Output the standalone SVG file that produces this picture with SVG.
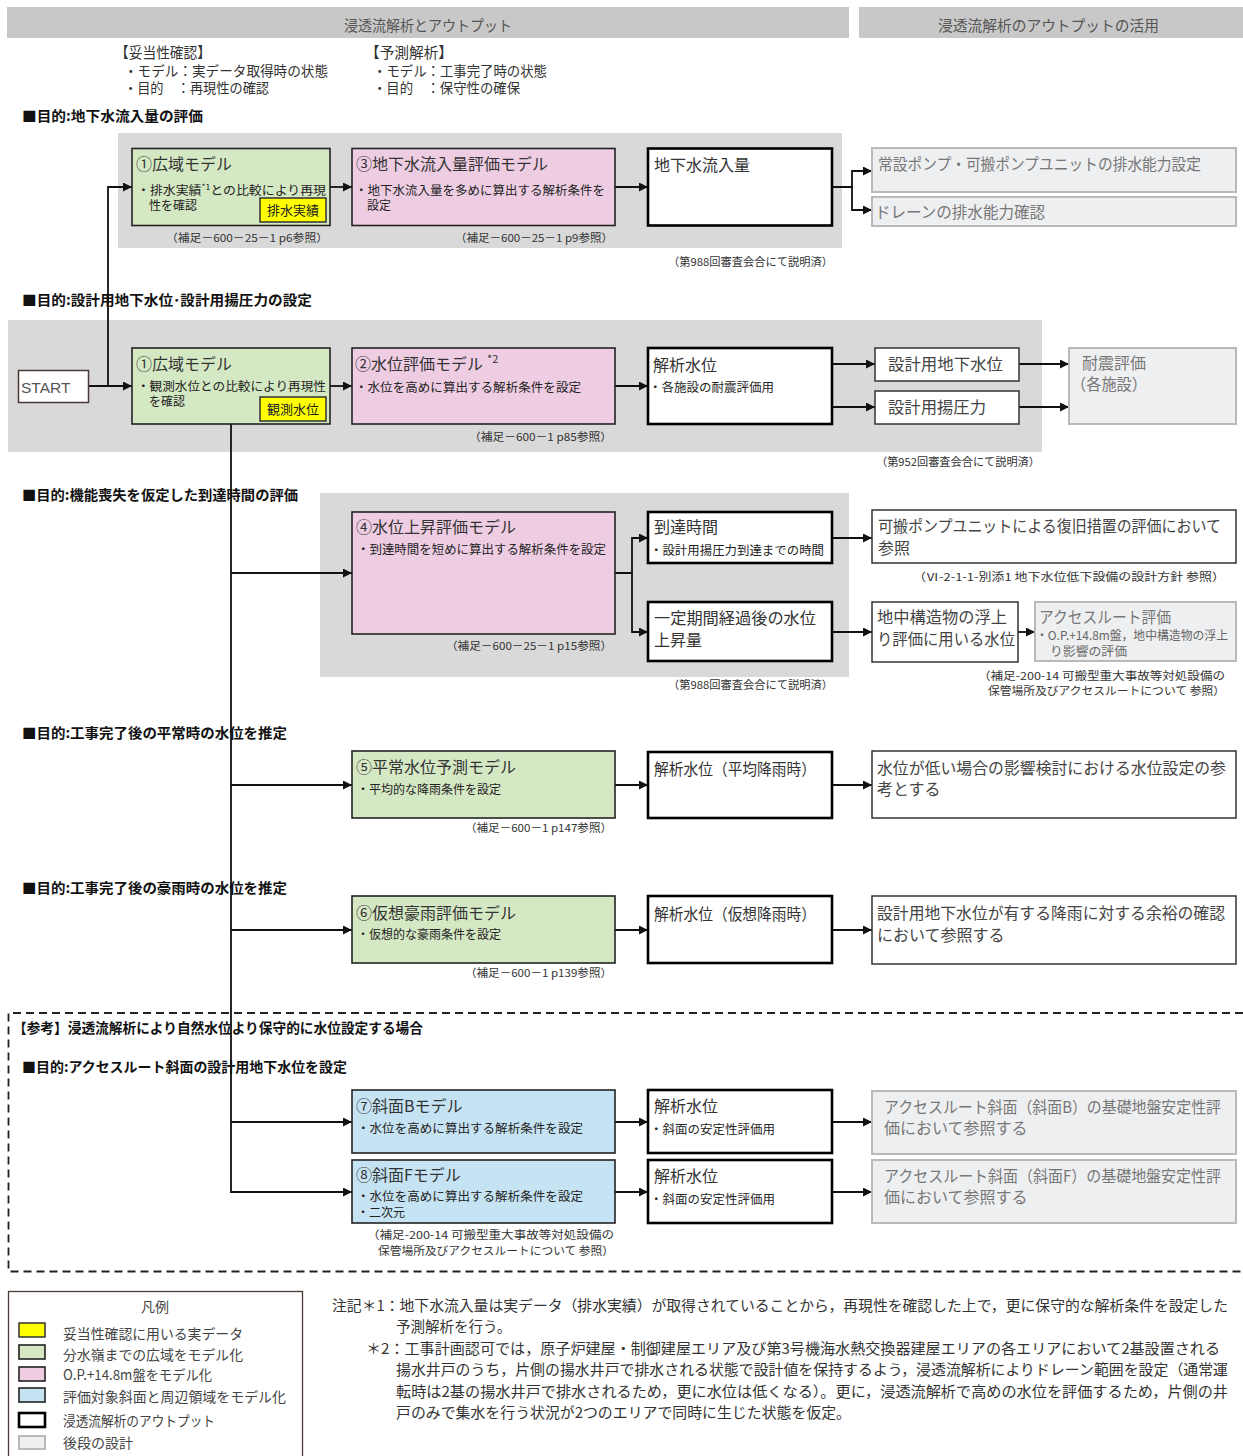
<svg xmlns="http://www.w3.org/2000/svg" width="1243" height="1456" viewBox="0 0 1243 1456">
<defs>
<style>
text{font-family:"Noto Sans CJK JP","Noto Sans",sans-serif}
.hb{fill:#c8c8c8}
.ht{font-size:15px;fill:#555}
.sec{font-size:14px;font-weight:bold;fill:#111}
.intro{font-size:14px;fill:#333}
.intro2{font-size:15px;fill:#333}
.bg{fill:#d9d9d9}
.gr{fill:#d5e8c4;stroke:#222;stroke-width:1.6}
.pk{fill:#eecde2;stroke:#222;stroke-width:1.6}
.bl{fill:#c6e3f3;stroke:#222;stroke-width:1.6}
.yl{fill:#ffff00;stroke:#333;stroke-width:1.5}
.out{fill:#fff;stroke:#000;stroke-width:2.6}
.use{fill:#fff;stroke:#333;stroke-width:1.5}
.gy{fill:#eeeff1;stroke:#b9b9b9;stroke-width:2}
.tt{font-size:16px;fill:#333}
.st{font-size:12px;fill:#222}
.yt{font-size:13px;fill:#222}
.cap{font-size:11px;fill:#333}
.ut{font-size:16px;fill:#444}
.gt{font-size:16px;fill:#777}
.gs{font-size:12px;fill:#666}
.lg{font-size:14px;fill:#444}
.nt{font-size:14.5px;fill:#333}
.c{fill:none;stroke:#111;stroke-width:1.8}
.ca{fill:none;stroke:#111;stroke-width:1.8;marker-end:url(#ah)}
.dash{fill:none;stroke:#222;stroke-width:1.8;stroke-dasharray:8 5}
</style>
<marker id="ah" viewBox="0 0 10 10" refX="10" refY="5" markerWidth="5" markerHeight="5" orient="auto"><path d="M0,0 L10,5 L0,10 z" fill="#111"/></marker>
</defs>
<rect width="1243" height="1456" fill="#fff"/>

<!-- header bars -->
<g id="header">
<rect class="hb" x="7" y="7" width="842" height="31"/>
<text class="ht" x="344" y="31" textLength="168" lengthAdjust="spacingAndGlyphs">浸透流解析とアウトプット</text>
<rect class="hb" x="859" y="7" width="384" height="31"/>
<text class="ht" x="938" y="31" textLength="221" lengthAdjust="spacingAndGlyphs">浸透流解析のアウトプットの活用</text>
</g>

<g id="intro">
<text class="intro2" x="115" y="58" textLength="96" lengthAdjust="spacingAndGlyphs">【妥当性確認】</text>
<text class="intro" x="124" y="76" textLength="204" lengthAdjust="spacingAndGlyphs">・モデル：実データ取得時の状態</text>
<text class="intro" x="124" y="93" textLength="145" lengthAdjust="spacingAndGlyphs">・目的　：再現性の確認</text>
<text class="intro2" x="365" y="58" textLength="88" lengthAdjust="spacingAndGlyphs">【予測解析】</text>
<text class="intro" x="373" y="76" textLength="174" lengthAdjust="spacingAndGlyphs">・モデル：工事完了時の状態</text>
<text class="intro" x="373" y="93" textLength="147" lengthAdjust="spacingAndGlyphs">・目的　：保守性の確保</text>
</g>

<!-- section backgrounds -->
<g id="backgrounds">
<rect class="bg" x="118" y="133" width="724" height="115"/>
<rect class="bg" x="8" y="320" width="1034" height="132"/>
<rect class="bg" x="320" y="493" width="529" height="184"/>
</g>

<!-- section headings -->
<g id="headings">
<text class="sec" x="22" y="121" textLength="181" lengthAdjust="spacingAndGlyphs">■目的:地下水流入量の評価</text>
<text class="sec" x="22" y="305" textLength="290" lengthAdjust="spacingAndGlyphs">■目的:設計用地下水位･設計用揚圧力の設定</text>
<text class="sec" x="22" y="500" textLength="276" lengthAdjust="spacingAndGlyphs">■目的:機能喪失を仮定した到達時間の評価</text>
<text class="sec" x="22" y="738" textLength="265" lengthAdjust="spacingAndGlyphs">■目的:工事完了後の平常時の水位を推定</text>
<text class="sec" x="22" y="893" textLength="265" lengthAdjust="spacingAndGlyphs">■目的:工事完了後の豪雨時の水位を推定</text>
<text class="sec" x="13" y="1033" textLength="410" lengthAdjust="spacingAndGlyphs">【参考】浸透流解析により自然水位より保守的に水位設定する場合</text>
<text class="sec" x="22" y="1072" textLength="325" lengthAdjust="spacingAndGlyphs">■目的:アクセスルート斜面の設計用地下水位を設定</text>
</g>

<path id="reference-frame" class="dash" d="M1243,1013 H8.5 V1271.5 H1243"/>

<!-- captions -->
<g id="captions">
<text class="cap" x="166" y="242" textLength="162" lengthAdjust="spacingAndGlyphs">（補足－600－25－1 p6参照）</text>
<text class="cap" x="455" y="242" textLength="158" lengthAdjust="spacingAndGlyphs">（補足－600－25－1 p9参照）</text>
<text class="cap" x="668" y="266" textLength="165" lengthAdjust="spacingAndGlyphs">（第988回審査会合にて説明済）</text>
<text class="cap" x="469" y="441" textLength="143" lengthAdjust="spacingAndGlyphs">（補足－600－1 p85参照）</text>
<text class="cap" x="876" y="466" textLength="164" lengthAdjust="spacingAndGlyphs">（第952回審査会合にて説明済）</text>
<text class="cap" x="446" y="650" textLength="166" lengthAdjust="spacingAndGlyphs">（補足－600－25－1 p15参照）</text>
<text class="cap" x="668" y="689" textLength="165" lengthAdjust="spacingAndGlyphs">（第988回審査会合にて説明済）</text>
<text class="cap" x="913" y="581" textLength="312" lengthAdjust="spacingAndGlyphs">（Ⅵ-2-1-1-別添1  地下水位低下設備の設計方針  参照）</text>
<text class="cap" x="978" y="680" textLength="247" lengthAdjust="spacingAndGlyphs">（補足-200-14  可搬型重大事故等対処設備の</text>
<text class="cap" x="988" y="695" textLength="237" lengthAdjust="spacingAndGlyphs">保管場所及びアクセスルートについて  参照）</text>
<text class="cap" x="465" y="832" textLength="147" lengthAdjust="spacingAndGlyphs">（補足－600－1 p147参照）</text>
<text class="cap" x="465" y="977" textLength="147" lengthAdjust="spacingAndGlyphs">（補足－600－1 p139参照）</text>
<text class="cap" x="367" y="1239" textLength="247" lengthAdjust="spacingAndGlyphs">（補足-200-14  可搬型重大事故等対処設備の</text>
<text class="cap" x="378" y="1255" textLength="236" lengthAdjust="spacingAndGlyphs">保管場所及びアクセスルートについて  参照）</text>
</g>

<!-- connectors -->
<g id="connectors">
<path class="ca" d="M88,386 H132"/>
<path class="ca" d="M108,386 V187 H132"/>
<path class="ca" d="M330,187 H352"/>
<path class="ca" d="M615,187 H648"/>
<path class="ca" d="M832,187 H852 V171 H872"/>
<path class="ca" d="M852,187 V210 H872"/>
<path class="ca" d="M330,386 H352"/>
<path class="ca" d="M615,386 H648"/>
<path class="ca" d="M832,364 H875"/>
<path class="ca" d="M832,407 H875"/>
<path class="ca" d="M1019,364 H1069"/>
<path class="ca" d="M1019,407 H1069"/>
<path class="ca" d="M231,424 V1192 H352"/>
<path class="ca" d="M231,573 H352"/>
<path class="ca" d="M615,573 H632 V538 H648"/>
<path class="ca" d="M632,573 V632 H648"/>
<path class="ca" d="M832,538 H872"/>
<path class="ca" d="M832,632 H872"/>
<path class="ca" d="M1018,632 H1035"/>
<path class="ca" d="M231,785 H352"/>
<path class="ca" d="M615,785 H648"/>
<path class="ca" d="M832,785 H872"/>
<path class="ca" d="M231,930 H352"/>
<path class="ca" d="M615,930 H648"/>
<path class="ca" d="M832,930 H872"/>
<path class="ca" d="M231,1122 H352"/>
<path class="ca" d="M615,1122 H648"/>
<path class="ca" d="M832,1122 H872"/>
<path class="ca" d="M615,1192 H648"/>
<path class="ca" d="M832,1192 H872"/>
</g>

<!-- Section 1 nodes -->
<g id="model1a">
<rect class="gr" x="132" y="148.5" width="198" height="77"/>
<text class="tt" x="136" y="170">①広域モデル</text>
<text class="st" x="137" y="195" textLength="189" lengthAdjust="spacingAndGlyphs">・排水実績<tspan font-size="8" dy="-5">*1</tspan><tspan dy="5">との比較により再現</tspan></text>
<text class="st" x="149" y="210">性を確認</text>
<rect class="yl" x="260" y="198" width="66" height="24"/>
<text class="yt" x="293" y="215" text-anchor="middle">排水実績</text>
</g>
<g id="model3">
<rect class="pk" x="352" y="148.5" width="263" height="77"/>
<text class="tt" x="356" y="170">③地下水流入量評価モデル</text>
<text class="st" x="355" y="195" textLength="250" lengthAdjust="spacingAndGlyphs">・地下水流入量を多めに算出する解析条件を</text>
<text class="st" x="367" y="210">設定</text>
</g>
<g id="out-inflow">
<rect class="out" x="648" y="148.5" width="184" height="77"/>
<text class="tt" x="654" y="171">地下水流入量</text>
</g>
<g id="use-pump">
<rect class="gy" x="872" y="148" width="364" height="44"/>
<text class="gt" x="878" y="170" textLength="323" lengthAdjust="spacingAndGlyphs">常設ポンプ・可搬ポンプユニットの排水能力設定</text>
</g>
<g id="use-drain">
<rect class="gy" x="872" y="197" width="364" height="29"/>
<text class="gt" x="875" y="218" textLength="170" lengthAdjust="spacingAndGlyphs">ドレーンの排水能力確認</text>
</g>

<!-- Section 2 nodes -->
<g id="start">
<rect x="18.5" y="370.5" width="70" height="32" fill="#fff" stroke="#4a3a35" stroke-width="1.5"/>
<text x="21" y="393" font-size="15.5" fill="#555" style="font-family:'Liberation Sans',Arial,sans-serif">START</text>
</g>
<g id="model1b">
<rect class="gr" x="132" y="348" width="198" height="76"/>
<text class="tt" x="136" y="370">①広域モデル</text>
<text class="st" x="137" y="391" textLength="189" lengthAdjust="spacingAndGlyphs">・観測水位との比較により再現性</text>
<text class="st" x="149" y="406">を確認</text>
<rect class="yl" x="260" y="397" width="66" height="24"/>
<text class="yt" x="293" y="414" text-anchor="middle">観測水位</text>
</g>
<g id="model2">
<rect class="pk" x="352" y="348" width="263" height="76"/>
<text class="tt" x="355" y="370">②水位評価モデル<tspan font-size="11" dx="4" dy="-7">*2</tspan></text>
<text class="st" x="355" y="392" textLength="226" lengthAdjust="spacingAndGlyphs">・水位を高めに算出する解析条件を設定</text>
</g>
<g id="out-level">
<rect class="out" x="648" y="348" width="184" height="76"/>
<text class="tt" x="653" y="371">解析水位</text>
<text class="st" x="649" y="392" textLength="125" lengthAdjust="spacingAndGlyphs">・各施設の耐震評価用</text>
</g>
<g id="design-level">
<rect class="use" x="875" y="348" width="144" height="33"/>
<text class="ut" x="888" y="370" textLength="115" lengthAdjust="spacingAndGlyphs">設計用地下水位</text>
</g>
<g id="design-uplift">
<rect class="use" x="875" y="391" width="144" height="33"/>
<text class="ut" x="888" y="413" textLength="98" lengthAdjust="spacingAndGlyphs">設計用揚圧力</text>
</g>
<g id="seismic">
<rect class="gy" x="1069" y="348" width="167" height="76"/>
<text class="gt" x="1082" y="369">耐震評価</text>
<text class="gt" x="1071" y="390" textLength="76" lengthAdjust="spacingAndGlyphs">（各施設）</text>
</g>

<!-- Section 3 nodes -->
<g id="model4">
<rect class="pk" x="352" y="512" width="263" height="122"/>
<text class="tt" x="356" y="533">④水位上昇評価モデル</text>
<text class="st" x="357" y="554" textLength="249" lengthAdjust="spacingAndGlyphs">・到達時間を短めに算出する解析条件を設定</text>
</g>
<g id="out-time">
<rect class="out" x="648" y="512" width="184" height="51"/>
<text class="tt" x="654" y="533">到達時間</text>
<text class="st" x="650" y="555" textLength="174" lengthAdjust="spacingAndGlyphs">・設計用揚圧力到達までの時間</text>
</g>
<g id="out-rise">
<rect class="out" x="648" y="602" width="184" height="59"/>
<text class="tt" x="654" y="624" textLength="162" lengthAdjust="spacingAndGlyphs">一定期間経過後の水位</text>
<text class="tt" x="654" y="646">上昇量</text>
</g>
<g id="use-recovery">
<rect class="use" x="872" y="510" width="364" height="53"/>
<text class="ut" x="878" y="532" textLength="343" lengthAdjust="spacingAndGlyphs">可搬ポンプユニットによる復旧措置の評価において</text>
<text class="ut" x="878" y="554">参照</text>
</g>
<g id="use-buoyancy">
<rect class="use" x="872" y="602" width="146" height="60"/>
<text class="ut" x="877" y="623" textLength="130" lengthAdjust="spacingAndGlyphs">地中構造物の浮上</text>
<text class="ut" x="877" y="645" textLength="138" lengthAdjust="spacingAndGlyphs">り評価に用いる水位</text>
</g>
<g id="access-eval">
<rect class="gy" x="1035" y="602" width="201" height="59"/>
<text class="gt" x="1039" y="623" textLength="132" lengthAdjust="spacingAndGlyphs">アクセスルート評価</text>
<text class="gs" x="1036" y="640" textLength="192" lengthAdjust="spacingAndGlyphs">・O.P.+14.8m盤，地中構造物の浮上</text>
<text class="gs" x="1050" y="656" textLength="77" lengthAdjust="spacingAndGlyphs">り影響の評価</text>
</g>

<!-- Section 4 nodes -->
<g id="model5">
<rect class="gr" x="352" y="751" width="263" height="67"/>
<text class="tt" x="356" y="773">⑤平常水位予測モデル</text>
<text class="st" x="357" y="794">・平均的な降雨条件を設定</text>
</g>
<g id="out-normal">
<rect class="out" x="648" y="752" width="184" height="66"/>
<text class="tt" x="654" y="775" textLength="162" lengthAdjust="spacingAndGlyphs">解析水位（平均降雨時）</text>
</g>
<g id="use-low">
<rect class="use" x="872" y="751" width="364" height="67"/>
<text class="ut" x="877" y="774" textLength="349" lengthAdjust="spacingAndGlyphs">水位が低い場合の影響検討における水位設定の参</text>
<text class="ut" x="877" y="795">考とする</text>
</g>

<!-- Section 5 nodes -->
<g id="model6">
<rect class="gr" x="352" y="896" width="263" height="67"/>
<text class="tt" x="356" y="919">⑥仮想豪雨評価モデル</text>
<text class="st" x="357" y="939">・仮想的な豪雨条件を設定</text>
</g>
<g id="out-heavy">
<rect class="out" x="648" y="896" width="184" height="67"/>
<text class="tt" x="654" y="920" textLength="162" lengthAdjust="spacingAndGlyphs">解析水位（仮想降雨時）</text>
</g>
<g id="use-margin">
<rect class="use" x="872" y="896" width="364" height="68"/>
<text class="ut" x="877" y="919" textLength="348" lengthAdjust="spacingAndGlyphs">設計用地下水位が有する降雨に対する余裕の確認</text>
<text class="ut" x="877" y="941">において参照する</text>
</g>

<!-- Section 6 nodes -->
<g id="model7">
<rect class="bl" x="352" y="1090" width="263" height="63"/>
<text class="tt" x="356" y="1112">⑦斜面Bモデル</text>
<text class="st" x="357" y="1133" textLength="226" lengthAdjust="spacingAndGlyphs">・水位を高めに算出する解析条件を設定</text>
</g>
<g id="model8">
<rect class="bl" x="352" y="1160" width="263" height="63"/>
<text class="tt" x="356" y="1181">⑧斜面Fモデル</text>
<text class="st" x="357" y="1201" textLength="226" lengthAdjust="spacingAndGlyphs">・水位を高めに算出する解析条件を設定</text>
<text class="st" x="357" y="1217">・二次元</text>
</g>
<g id="out-slopeB">
<rect class="out" x="648" y="1090" width="184" height="63"/>
<text class="tt" x="654" y="1112">解析水位</text>
<text class="st" x="650" y="1134" textLength="125" lengthAdjust="spacingAndGlyphs">・斜面の安定性評価用</text>
</g>
<g id="out-slopeF">
<rect class="out" x="648" y="1160" width="184" height="63"/>
<text class="tt" x="654" y="1182">解析水位</text>
<text class="st" x="650" y="1204" textLength="125" lengthAdjust="spacingAndGlyphs">・斜面の安定性評価用</text>
</g>
<g id="use-slopeB">
<rect class="gy" x="872" y="1091" width="364" height="63"/>
<text class="gt" x="884" y="1113" textLength="337" lengthAdjust="spacingAndGlyphs">アクセスルート斜面（斜面B）の基礎地盤安定性評</text>
<text class="gt" x="884" y="1134">価において参照する</text>
</g>
<g id="use-slopeF">
<rect class="gy" x="872" y="1160" width="364" height="63"/>
<text class="gt" x="884" y="1182" textLength="337" lengthAdjust="spacingAndGlyphs">アクセスルート斜面（斜面F）の基礎地盤安定性評</text>
<text class="gt" x="884" y="1203">価において参照する</text>
</g>

<!-- legend -->
<g id="legend">
<rect x="8.5" y="1291.5" width="294" height="175" fill="#fff" stroke="#4a3a35" stroke-width="1.3"/>
<text class="lg" x="155" y="1312" text-anchor="middle">凡例</text>
<rect class="yl" x="19" y="1323" width="26" height="14"/>
<rect class="gr" x="19" y="1345" width="26" height="14"/>
<rect class="pk" x="19" y="1367" width="26" height="14"/>
<rect class="bl" x="19" y="1388" width="26" height="14"/>
<rect class="out" x="19" y="1413" width="26" height="14"/>
<rect class="gy" x="19" y="1436" width="26" height="13"/>
<text class="lg" x="63" y="1339" textLength="180" lengthAdjust="spacingAndGlyphs">妥当性確認に用いる実データ</text>
<text class="lg" x="63" y="1360" textLength="180" lengthAdjust="spacingAndGlyphs">分水嶺までの広域をモデル化</text>
<text class="lg" x="63" y="1380" textLength="149" lengthAdjust="spacingAndGlyphs">O.P.+14.8m盤をモデル化</text>
<text class="lg" x="63" y="1402" textLength="223" lengthAdjust="spacingAndGlyphs">評価対象斜面と周辺領域をモデル化</text>
<text class="lg" x="63" y="1426" textLength="152" lengthAdjust="spacingAndGlyphs">浸透流解析のアウトプット</text>
<text class="lg" x="63" y="1448">後段の設計</text>
</g>

<!-- notes -->
<g id="notes">
<text class="nt" x="332" y="1311" textLength="896" lengthAdjust="spacingAndGlyphs">注記＊1：地下水流入量は実データ（排水実績）が取得されていることから，再現性を確認した上で，更に保守的な解析条件を設定した</text>
<text class="nt" x="396" y="1332">予測解析を行う。</text>
<text class="nt" x="366" y="1354" textLength="854" lengthAdjust="spacingAndGlyphs">＊2：工事計画認可では，原子炉建屋・制御建屋エリア及び第3号機海水熱交換器建屋エリアの各エリアにおいて2基設置される</text>
<text class="nt" x="396" y="1375" textLength="832" lengthAdjust="spacingAndGlyphs">揚水井戸のうち，片側の揚水井戸で排水される状態で設計値を保持するよう，浸透流解析によりドレーン範囲を設定（通常運</text>
<text class="nt" x="396" y="1397" textLength="832" lengthAdjust="spacingAndGlyphs">転時は2基の揚水井戸で排水されるため，更に水位は低くなる）。更に，浸透流解析で高めの水位を評価するため，片側の井</text>
<text class="nt" x="396" y="1418" textLength="455" lengthAdjust="spacingAndGlyphs">戸のみで集水を行う状況が2つのエリアで同時に生じた状態を仮定。</text>
</g>
</svg>
